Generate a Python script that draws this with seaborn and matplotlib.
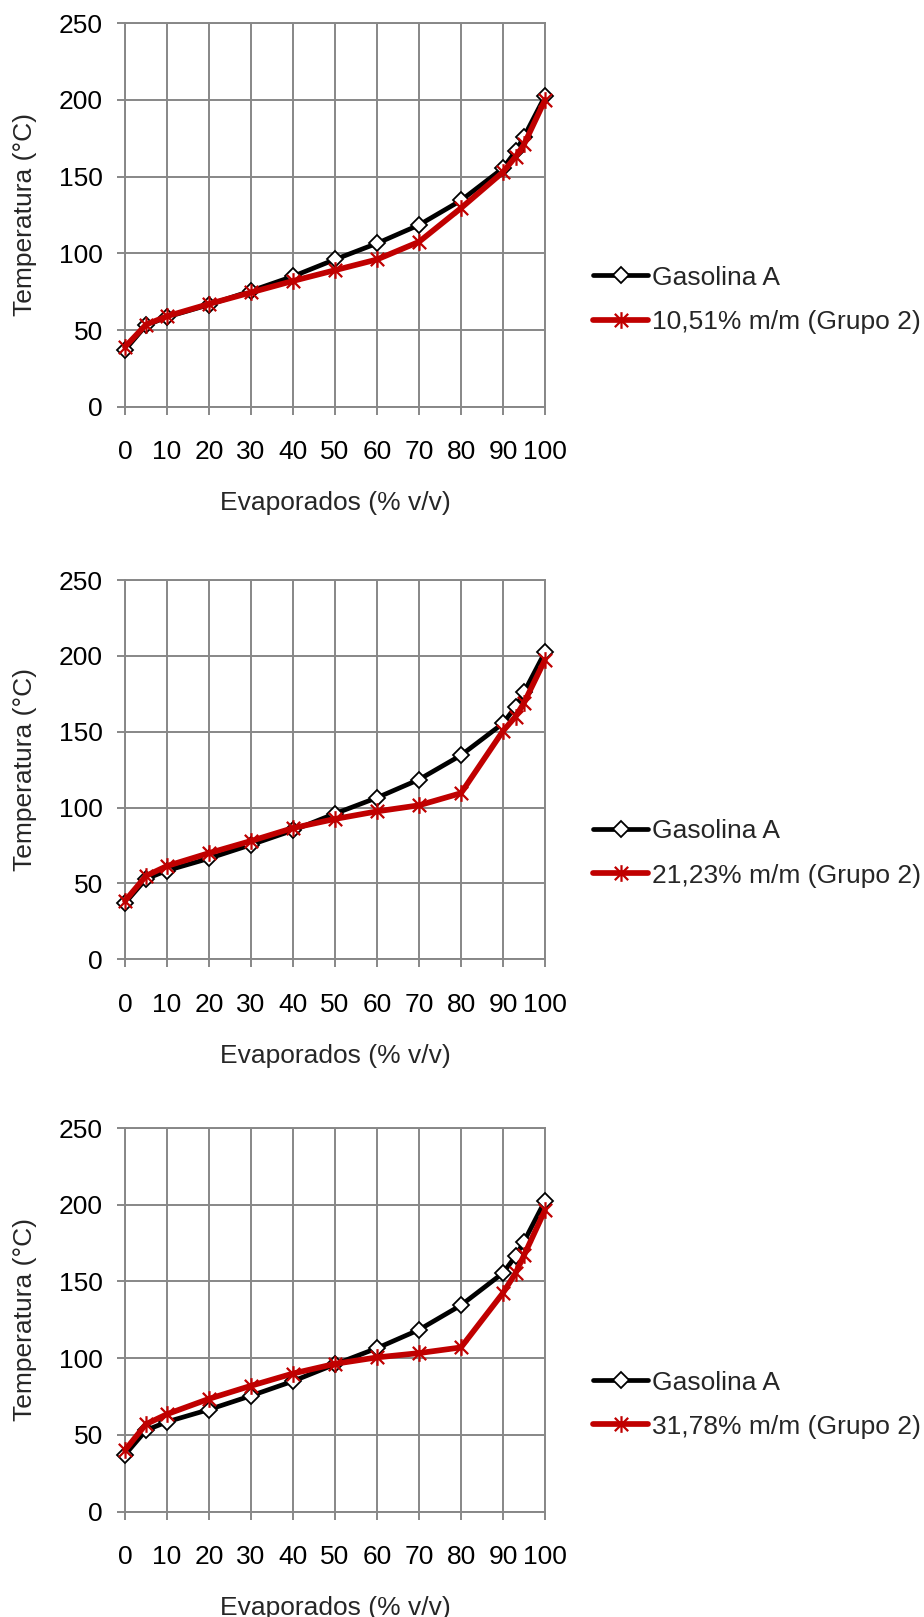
import numpy as np
import pandas as pd
import matplotlib
matplotlib.use("Agg")
import matplotlib.pyplot as plt
from matplotlib.path import Path
import seaborn as sns

# ---- data ----
evap = [0, 5, 10, 20, 30, 40, 50, 60, 70, 80, 90, 93, 95, 100]
gasolina_a = [37, 53, 58.5, 66.5, 75.5, 85, 96, 106.5, 118.5, 134.5, 155.5, 166.5, 176, 202.5]
grupo2_1051 = [39, 53.5, 59, 67, 74.5, 82, 89, 96, 107.5, 129.5, 153, 163, 171, 200]
grupo2_2123 = [38.5, 55, 61.5, 70, 78, 86.5, 92.5, 97.5, 101.5, 109.5, 150.5, 160, 169, 197.5]
grupo2_3178 = [40, 57, 63.5, 73.5, 82, 90, 96.3, 100.5, 103.3, 107, 142.5, 155.5, 167, 196.5]
labels_red = ["10,51% m/m (Grupo 2)", "21,23% m/m (Grupo 2)", "31,78% m/m (Grupo 2)"]
reds = [grupo2_1051, grupo2_2123, grupo2_3178]
x_ticks = [0, 10, 20, 30, 40, 50, 60, 70, 80, 90, 100]
y_ticks = [0, 50, 100, 150, 200, 250]

sns.set_style("white")
plt.rcParams['font.family'] = ['Liberation Sans', 'DejaVu Sans']

W, H = 924, 1617
fig = plt.figure(figsize=(W / 100, H / 100), dpi=100)

star = Path([(-1, -1), (1, 1), (-1, 1), (1, -1), (0, -1.25), (0, 1.25)],
            [Path.MOVETO, Path.LINETO, Path.MOVETO, Path.LINETO, Path.MOVETO, Path.LINETO])

panels = [(23.3, 406.7), (580.0, 959.3), (1128.0, 1511.6)]
left_px, right_px = 125, 545
grid_col = "#878787"
fs = 19

for (top, bot), red_vals, lab in zip(panels, reds, labels_red):
    h = bot - top
    ax = fig.add_axes([left_px / W, 1 - bot / H, (right_px - left_px) / W, h / H])
    df = pd.DataFrame({"x": evap, "a": gasolina_a, "r": red_vals})
    sns.lineplot(data=df, x="x", y="a", ax=ax, color="black", lw=3.4, marker="D",
                 ms=8.5, mfc="white", mec="black", mew=1.3, label="Gasolina A", sort=False,
                 clip_on=False, zorder=3)
    sns.lineplot(data=df, x="x", y="r", ax=ax, color="#C00000", lw=4.1, marker=star,
                 ms=12, mec="#C00000", mew=1.6, label=lab, sort=False,
                 clip_on=False, zorder=4)
    ax.set_xlim(0, 100)
    ax.set_ylim(0, 250)
    ax.set_xticks(x_ticks)
    ax.set_yticks(y_ticks)
    ax.grid(True, color=grid_col, lw=1.4)
    ax.set_axisbelow(True)
    for s in ax.spines.values():
        s.set_color(grid_col)
        s.set_linewidth(1.4)
    ax.tick_params(axis="both", which="major", direction="out", length=6, width=1.4,
                   color=grid_col, labelsize=fs, labelcolor="black")
    ax.tick_params(axis="x", pad=18, bottom=True)
    ax.tick_params(axis="y", pad=10, left=True)
    ax.set_xlabel("Evaporados (% v/v)", fontsize=fs)
    ax.set_ylabel("Temperatura (°C)", fontsize=fs)
    ax.xaxis.set_label_coords(0.5, -(491 - 406.7) / h)
    ax.yaxis.set_label_coords((37 - left_px) / (right_px - left_px), 0.5)
    ax.legend(loc="center left", bbox_to_anchor=((593 - left_px) / (right_px - left_px), 0.279),
              frameon=False, fontsize=fs, handlelength=2.1, handletextpad=0.15,
              labelspacing=0.76, borderpad=0, borderaxespad=0)

fig.savefig("out.png", dpi=100)
